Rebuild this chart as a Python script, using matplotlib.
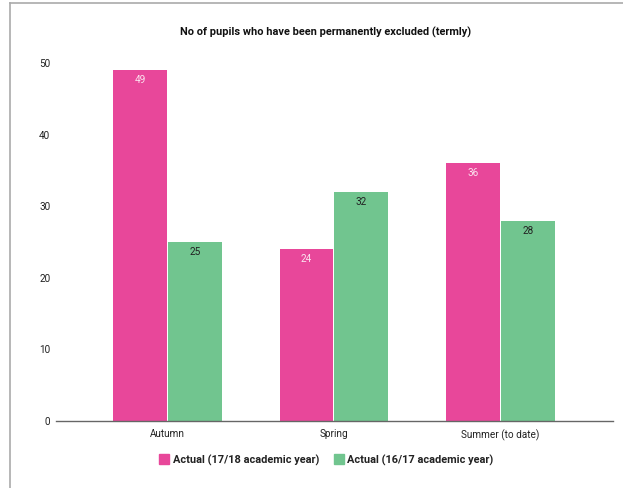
import matplotlib.pyplot as plt
import numpy as np
from matplotlib.lines import Line2D

plt.rcParams["font.family"] = ["Roboto", "DejaVu Sans"]

terms = ["Autumn", "Spring", "Summer (to date)"]
series_names = ["Actual (17/18 academic year)", "Actual (16/17 academic year)"]
pupils_1718 = [49, 24, 36]
pupils_1617 = [25, 32, 28]
y_ticks = [0, 10, 20, 30, 40, 50]

PINK = "#E8479A"
GREEN = "#71C58F"
BAR_W = 0.324

fig = plt.figure(figsize=(6.23, 4.88), dpi=100)
ax = fig.add_axes([0.0899, 0.1373, 0.8940, 0.7336])

x = np.arange(len(terms))
bars_a = ax.bar(x - BAR_W / 2 - 0.003, pupils_1718, BAR_W, color=PINK, label=series_names[0])
bars_b = ax.bar(x + BAR_W / 2 + 0.003, pupils_1617, BAR_W, color=GREEN, label=series_names[1])

# value labels sit just inside the top of each bar
for bars, vals, col in [(bars_a, pupils_1718, "#FBE3EF"), (bars_b, pupils_1617, "#222222")]:
    for b, v in zip(bars, vals):
        ax.annotate(str(v), (b.get_x() + b.get_width() / 2, v),
                    xytext=(0, -10), textcoords="offset pixels",
                    ha="center", va="center", fontsize=7.2, color=col)

ax.set_xlim(-0.67, 2.676)
ax.set_ylim(0, 50)
ax.set_yticks(y_ticks)
ax.set_xticks(x)
ax.set_xticklabels(terms)
ax.tick_params(axis="both", length=0, labelsize=7.2, colors="#222222")
ax.tick_params(axis="y", pad=4)
ax.tick_params(axis="x", pad=6)
for side in ["top", "right", "left"]:
    ax.spines[side].set_visible(False)
ax.spines["bottom"].set_color("#666666")
ax.spines["bottom"].set_linewidth(1.0)

fig.text(326 / 623, 1 - 32 / 488, "No of pupils who have been permanently excluded (termly)",
         ha="center", va="center", fontsize=7.9, fontweight="bold", color="#111111")

handles = [Line2D([0], [0], marker="s", linestyle="", markersize=6.5, markerfacecolor=c,
                  markeredgecolor=c) for c in (PINK, GREEN)]
leg = fig.legend(handles, series_names, loc="center", bbox_to_anchor=(326 / 623, 1 - 460 / 488),
                 ncol=2, frameon=False, handletextpad=0.3, columnspacing=1.3,
                 handlelength=1.0, prop={"size": 7.9, "weight": "bold"})
for t in leg.get_texts():
    t.set_color("#222222")

# frame edges on the top and left
fig.add_artist(Line2D([10 / 623, 10 / 623], [0, 1 - 3 / 488], transform=fig.transFigure,
                      color="#AAAAAA", linewidth=1.2))
fig.add_artist(Line2D([10 / 623, 1], [1 - 3 / 488, 1 - 3 / 488], transform=fig.transFigure,
                      color="#AAAAAA", linewidth=1.2))

fig.savefig("out.png", dpi=100)
